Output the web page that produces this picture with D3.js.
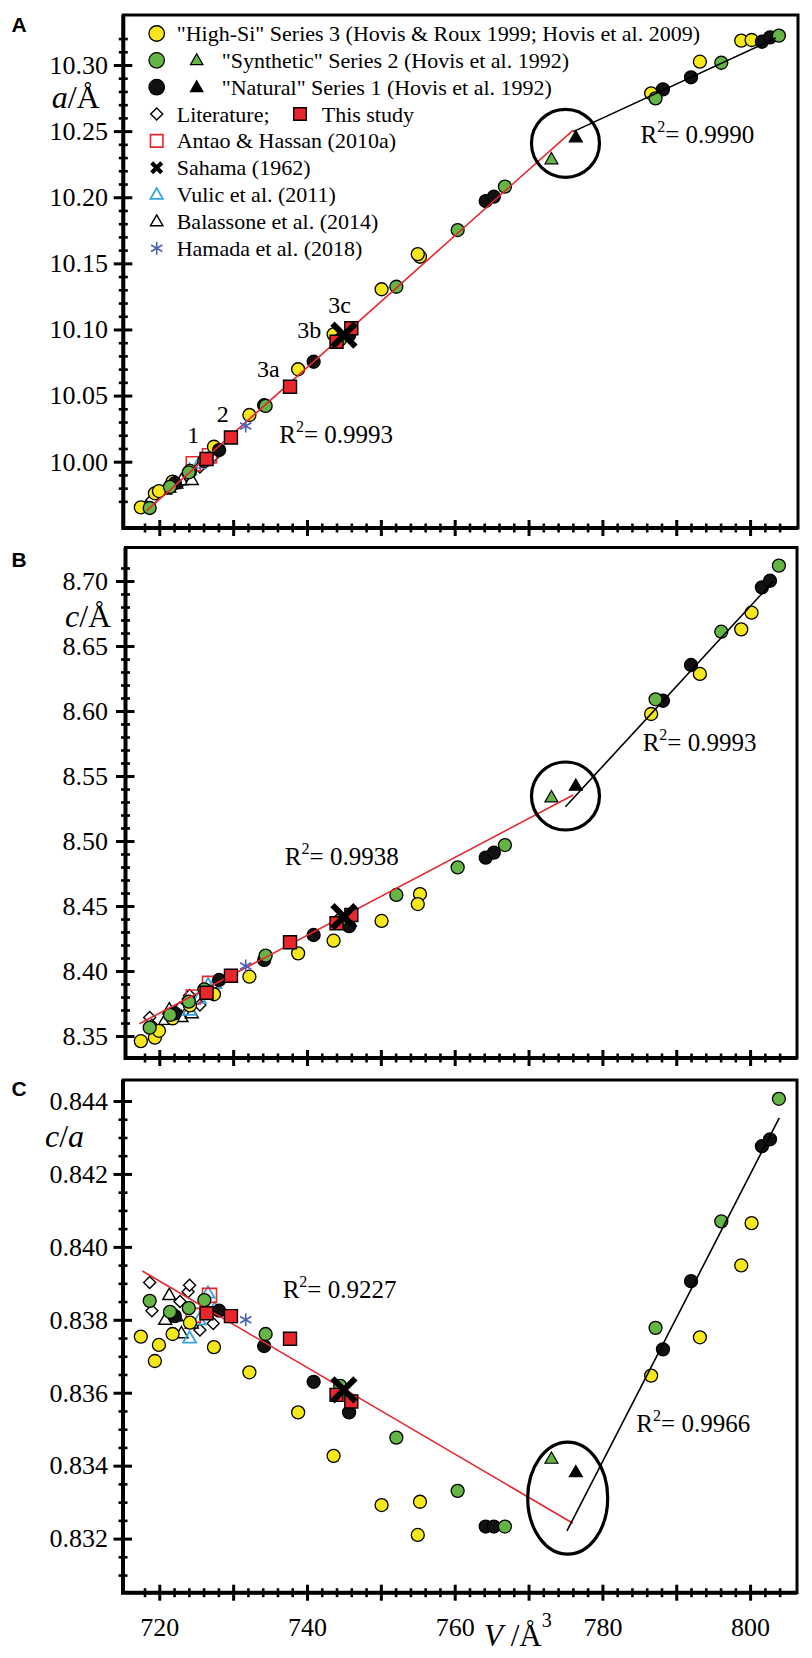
<!DOCTYPE html>
<html>
<head>
<meta charset="utf-8">
<script src="https://cdnjs.cloudflare.com/ajax/libs/d3/7.8.5/d3.min.js"></script>
<style>
  body { margin: 0; background: #fff; }
</style>
</head>
<body>
<svg id="chart" width="812" height="1658"></svg>
<script>
// one row per sample: [V (Å^3), a (Å), c (Å), c/a]
const highSi = [
  [717.5, 9.9655, 8.3460, 0.83754],
  [719.4, 9.9761, 8.3487, 0.83687],
  [719.95, 9.9778, 8.3540, 0.83731],
  [721.8, 9.9850, 8.3636, 0.83761],
  [724.15, 9.9930, 8.3735, 0.83792],
  [727.4, 10.0113, 8.3821, 0.83725],
  [732.2, 10.0353, 8.3956, 0.83656],
  [738.8, 10.0699, 8.4136, 0.83546],
  [743.6, 10.0963, 8.4233, 0.83427],
  [750.1, 10.1304, 8.4385, 0.83292],
  [755.3, 10.1550, 8.4592, 0.83301],
  [755.0, 10.1570, 8.4515, 0.83210],
  [786.6, 10.2786, 8.5977, 0.83647],
  [793.2, 10.3025, 8.6285, 0.83752],
  [798.8, 10.3184, 8.6628, 0.83949],
  [800.2, 10.3189, 8.6756, 0.84065]
];
const synthetic = [
  [718.7, 9.9650, 8.3564, 0.83852],
  [721.45, 9.9810, 8.3662, 0.83822],
  [724.0, 9.9920, 8.3764, 0.83832],
  [726.1, 10.0006, 8.3859, 0.83854],
  [734.4, 10.0422, 8.4118, 0.83761],
  [744.5, 10.0924, 8.4392, 0.83619],
  [752.1, 10.1323, 8.4585, 0.83477],
  [760.4, 10.1752, 8.4797, 0.83331],
  [766.8, 10.2080, 8.4969, 0.83233],
  [787.2, 10.2748, 8.6090, 0.83778],
  [796.1, 10.3017, 8.6610, 0.84070],
  [803.9, 10.3222, 8.7118, 0.84406]
];
const natural = [
  [722.1, 9.9837, 8.3674, 0.83810],
  [728.1, 10.0088, 8.3931, 0.83825],
  [734.2, 10.0427, 8.4085, 0.83728],
  [740.9, 10.0756, 8.4277, 0.83630],
  [745.7, 10.0957, 8.4345, 0.83546],
  [764.2, 10.1971, 8.4872, 0.83233],
  [765.3, 10.2004, 8.4910, 0.83233],
  [788.2, 10.2816, 8.6079, 0.83719],
  [792.0, 10.2907, 8.6354, 0.83906],
  [801.6, 10.3176, 8.6951, 0.84276],
  [802.7, 10.3209, 8.7002, 0.84295]
];
const synthTri = [[773.1, 10.2287, 8.5336, 0.83419]];
const naturalTri = [[776.4, 10.2453, 8.5425, 0.83382]];
const literature = [
  [718.7, 9.9690, 8.3642, 0.83902],
  [719.0, 9.9710, 8.3582, 0.83825],
  [722.8, 9.9840, 8.3716, 0.83850],
  [723.9, 9.9890, 8.3785, 0.83877],
  [724.1, 9.9900, 8.3811, 0.83895],
  [725.5, 9.9960, 8.3738, 0.83772],
  [727.3, 10.0040, 8.3824, 0.83790]
];
const thisStudy = [
  [726.4, 10.0020, 8.3833, 0.83818],
  [729.7, 10.0183, 8.3964, 0.83810],
  [737.7, 10.0567, 8.4221, 0.83748],
  [744.0, 10.0907, 8.4367, 0.83594],
  [746.0, 10.1009, 8.4431, 0.83576]
];
const antao = [
  [724.6, 9.9985, 8.3800, 0.83812],
  [726.8, 10.0045, 8.3905, 0.83867]
];
const sahama = [[745.0, 10.0958, 8.4418, 0.83608]];
const vulic = [
  [724.1, 9.9937, 8.3697, 0.83750],
  [725.4, 9.9988, 8.3790, 0.83800],
  [726.6, 10.0025, 8.3894, 0.83873],
  [727.5, 10.0088, 8.3904, 0.83830]
];
const balassone = [
  [720.8, 9.9790, 8.3624, 0.83800],
  [721.35, 9.9805, 8.3705, 0.83868],
  [722.3, 9.9835, 8.3672, 0.83810],
  [723.0, 9.9860, 8.3646, 0.83763],
  [724.4, 9.9862, 8.3675, 0.83790]
];
const hamada = [[731.7, 10.0270, 8.4038, 0.83800]];

// fitted segments [V, value]
const fitLowA = [[718.3, 9.963], [776.05, 10.2508]];
const fitHighA = [[776.05, 10.2496], [803.5, 10.3204]];
const fitLowC = [[717.3, 8.3594], [776.05, 8.5354]];
const fitHighC = [[775.0, 8.5264], [803.1, 8.6995]];
const fitLowCA = [[717.7, 0.83934], [776.0, 0.83242]];
const fitHighCA = [[775.2, 0.83221], [803.95, 0.84354]];

// R^2 labels [text, V, value]
const r2A = [['0.9993', 736.25, 10.0139], ['0.9990', 785.17, 10.2412]];
const r2C = [['0.9938', 737.0, 8.4815], ['0.9993', 785.45, 8.5692]];
const r2CA = [['0.9227', 736.7, 0.83859], ['0.9966', 784.6, 0.83492]];
const sampleLabels = [['1', 724.6, 10.0139], ['2', 728.6, 10.0302], ['3a', 734.75, 10.0643],
                      ['3b', 740.3, 10.0933], ['3c', 744.4, 10.1122]];
// circled region centres [V, value]
const ringA = [775.0, 10.2408], ringC = [775.0, 8.5346], ringCA = [775.3, 0.83311];

// tick labels
const vTicks = [720, 740, 760, 780, 800];
const aTicks = [10.00, 10.05, 10.10, 10.15, 10.20, 10.25, 10.30];
const cTicks = [8.35, 8.40, 8.45, 8.50, 8.55, 8.60, 8.65, 8.70];
const caTicks = [0.832, 0.834, 0.836, 0.838, 0.840, 0.842, 0.844];

const serif = '"Liberation Serif", "Times New Roman", serif';
const svg = d3.select('#chart').style('font-family', serif);
const red = '#e8262d', yellow = '#f6e71d', green = '#64b446';

const x = d3.scaleLinear().domain([720, 800]).range([159.3, 750.1]);

const panels = [
  { letter: 'A', letterY: 31.7, col: 1, top: 15, bottom: 528, left: 123.3, right: 798,
    y: d3.scaleLinear().domain([10.00, 10.30]).range([461.7, 65]),
    major: aTicks, step: 0.01, fmt: d3.format('.2f'),
    fits: [fitLowA, fitHighA], r2: r2A, ring: ringA, rx: 34, ry: 34 },
  { letter: 'B', letterY: 566.7, col: 2, top: 547.5, bottom: 1058, left: 125.5, right: 797,
    y: d3.scaleLinear().domain([8.35, 8.70]).range([1036, 581]),
    major: cTicks, step: 0.01, fmt: d3.format('.2f'),
    fits: [fitLowC, fitHighC], r2: r2C, ring: ringC, rx: 34, ry: 34 },
  { letter: 'C', letterY: 1096, col: 3, top: 1080, bottom: 1592.7, left: 123, right: 797,
    y: d3.scaleLinear().domain([0.832, 0.844]).range([1538.6, 1101]),
    major: caTicks, step: 0.0005, fmt: d3.format('.3f'),
    fits: [fitLowCA, fitHighCA], r2: r2CA, ring: ringCA, rx: 40, ry: 56, xLabels: true }
];

function stepTicks(lo, hi, step) {
  const n0 = Math.ceil(lo / step - 1e-6), n1 = Math.floor(hi / step + 1e-6);
  return d3.range(n0, n1 + 1).map(i => +(i * step).toFixed(6));
}

function symPath(type, s) {
  const h = s / 2;
  if (type === 'circle') return d3.symbol(d3.symbolCircle, Math.PI * h * h)();
  if (type === 'square') return `M${-h},${-h}H${h}V${h}H${-h}Z`;
  if (type === 'diamond') return `M0,${-h}L${h},0L0,${h}L${-h},0Z`;
  if (type === 'triangle') { const t = s * 0.87; return `M0,${-t * 0.6}L${h},${t * 0.4}L${-h},${t * 0.4}Z`; }
  if (type === 'x') return `M${-h},${-h}L${h},${h}M${h},${-h}L${-h},${h}`;
  if (type === 'asterisk') {
    const c = h * Math.cos(Math.PI / 6), s2 = h * Math.sin(Math.PI / 6);
    return `M0,${-h}V${h}M${-c},${-s2}L${c},${s2}M${-c},${s2}L${c},${-s2}`;
  }
}

const styles = {
  literature: { sym: 'diamond', size: 12, fill: '#fff', stroke: '#000', sw: 1.4 },
  balassone: { sym: 'triangle', size: 13, fill: '#fff', stroke: '#000', sw: 1.4 },
  vulic: { sym: 'triangle', size: 13, fill: 'none', stroke: '#36a4e0', sw: 1.8 },
  antao: { sym: 'square', size: 14, fill: 'none', stroke: red, sw: 1.6 },
  highSi: { sym: 'circle', size: 13, fill: yellow, stroke: '#000', sw: 1.3 },
  natural: { sym: 'circle', size: 13, fill: '#111', stroke: '#000', sw: 1.3 },
  synthetic: { sym: 'circle', size: 13, fill: green, stroke: '#000', sw: 1.3 },
  synthTri: { sym: 'triangle', size: 13, fill: green, stroke: '#000', sw: 1.2 },
  naturalTri: { sym: 'triangle', size: 13, fill: '#000', stroke: '#000', sw: 1.2 },
  thisStudy: { sym: 'square', size: 13, fill: red, stroke: '#000', sw: 1.4 },
  hamada: { sym: 'asterisk', size: 13, fill: 'none', stroke: '#4a60b8', sw: 1.6 },
  sahama: { sym: 'x', size: 23, fill: 'none', stroke: '#000', sw: 6 }
};

const under = [['literature', literature], ['balassone', balassone], ['vulic', vulic], ['antao', antao],
               ['highSi', highSi], ['natural', natural], ['synthetic', synthetic],
               ['synthTri', synthTri], ['naturalTri', naturalTri]];
const over = [['thisStudy', thisStudy], ['hamada', hamada], ['sahama', sahama]];

function drawSeries(g, p, list) {
  list.forEach(([key, rows]) => {
    const st = styles[key];
    g.append('g').selectAll('path').data(rows).join('path')
      .attr('transform', d => `translate(${x(d[0])},${p.y(d[p.col])})`)
      .attr('d', symPath(st.sym, st.size))
      .attr('fill', st.fill).attr('stroke', st.stroke).attr('stroke-width', st.sw);
  });
}

function r2Text(g, px, py) {
  return function (label) {
    const t = g.append('text').attr('x', px).attr('y', py).attr('font-size', 25).attr('fill', '#000');
    t.append('tspan').text('R');
    t.append('tspan').attr('font-size', 16).attr('dy', -11).text('2');
    t.append('tspan').attr('dy', 11).text('= ' + label);
  };
}

panels.forEach(p => {
  const g = svg.append('g');

  // ticks
  const yLo = p.y.invert(p.bottom), yHi = p.y.invert(p.top);
  const majorSet = new Set(p.major.map(v => v.toFixed(4)));
  const minor = stepTicks(yLo, yHi, p.step)
    .filter(v => p.y(v) > p.top + 14 && p.y(v) < p.bottom - 14 && !majorSet.has(v.toFixed(4)));

  g.append('g').attr('transform', `translate(${p.left},0)`)
    .call(d3.axisLeft(p.y).tickValues(minor).tickSize(4.5).tickFormat(''))
    .call(s => s.select('.domain').remove())
    .call(s => s.selectAll('line').attr('x1', 4.5).attr('stroke', '#000').attr('stroke-width', 2.6));

  g.append('g').attr('transform', `translate(${p.left},0)`)
    .call(d3.axisLeft(p.y).tickValues(p.major).tickSize(9.5).tickPadding(p.left - 108 - 9.5).tickFormat(p.fmt))
    .call(s => s.select('.domain').remove())
    .call(s => s.selectAll('line').attr('x1', 9).attr('stroke', '#000').attr('stroke-width', 3))
    .call(s => s.selectAll('text').attr('fill', '#000')
      .style('font-family', serif).style('font-size', '26px'));

  const vLo = x.invert(p.left), vHi = x.invert(p.right);
  const vMinor = stepTicks(vLo, vHi, 2)
    .filter(v => v % 10 !== 0 && x(v) > p.left + 14 && x(v) < p.right - 14);
  const vMajor = stepTicks(vLo, vHi, 10).filter(v => x(v) > p.left + 14 && x(v) < p.right - 14);

  g.append('g').attr('transform', `translate(0,${p.bottom})`)
    .call(d3.axisBottom(x).tickValues(vMinor).tickSize(4.5).tickFormat(''))
    .call(s => s.select('.domain').remove())
    .call(s => s.selectAll('line').attr('y1', -4.5).attr('stroke', '#000').attr('stroke-width', 2.6));

  g.append('g').attr('transform', `translate(0,${p.bottom})`)
    .call(d3.axisBottom(x).tickValues(vMajor).tickSize(8).tickPadding(16.8)
      .tickFormat(v => (p.xLabels && vTicks.includes(v)) ? String(v) : ''))
    .call(s => s.select('.domain').remove())
    .call(s => s.selectAll('line').attr('y1', -8).attr('stroke', '#000').attr('stroke-width', 3))
    .call(s => s.selectAll('text').attr('fill', '#000')
      .style('font-family', serif).style('font-size', '26px'));

  // frame
  g.append('rect').attr('x', p.left).attr('y', p.top)
    .attr('width', p.right - p.left).attr('height', p.bottom - p.top)
    .attr('fill', 'none').attr('stroke', '#000').attr('stroke-width', 3);
  g.append('path')
    .attr('d', `M${p.left},${p.top}V${p.bottom}H${p.right}`)
    .attr('fill', 'none').attr('stroke', '#000').attr('stroke-width', 4);

  // panel letter
  g.append('text').attr('x', 11.5).attr('y', p.letterY)
    .style('font-family', '"Liberation Sans", Arial, sans-serif').attr('font-weight', 'bold')
    .attr('font-size', 21).text(p.letter);

  // markers below the fits
  drawSeries(g, p, under);

  // fitted lines
  const line = d3.line().x(d => x(d[0])).y(d => p.y(d[1]));
  g.append('path').attr('d', line(p.fits[0])).attr('fill', 'none').attr('stroke', red).attr('stroke-width', 1.6);
  g.append('path').attr('d', line(p.fits[1])).attr('fill', 'none').attr('stroke', '#000').attr('stroke-width', 1.6);

  drawSeries(g, p, over);

  // ring around the two triangles
  g.append('ellipse').attr('cx', x(p.ring[0])).attr('cy', p.y(p.ring[1]))
    .attr('rx', p.rx).attr('ry', p.ry)
    .attr('fill', 'none').attr('stroke', '#000').attr('stroke-width', 3.2);

  p.r2.forEach(([label, v, val]) => r2Text(g, x(v), p.y(val))(label));
});

// panel A extras
const pA = panels[0];
svg.append('g').selectAll('text').data(sampleLabels).join('text')
  .attr('x', d => x(d[1])).attr('y', d => pA.y(d[2]))
  .attr('text-anchor', 'middle').attr('font-size', 24).text(d => d[0]);

// axis titles
const aT = svg.append('text').attr('x', 51.7).attr('y', 108).attr('font-size', 32);
aT.append('tspan').attr('font-style', 'italic').text('a');
aT.append('tspan').text('/Å');
const cT = svg.append('text').attr('x', 65).attr('y', 626.7).attr('font-size', 32);
cT.append('tspan').attr('font-style', 'italic').text('c');
cT.append('tspan').text('/Å');
const caT = svg.append('text').attr('x', 45).attr('y', 1147).attr('font-size', 32).attr('font-style', 'italic');
caT.append('tspan').text('c');
caT.append('tspan').attr('font-style', 'normal').text('/');
caT.append('tspan').text('a');
const vT = svg.append('text').attr('x', 484).attr('y', 1645.7).attr('font-size', 31);
vT.append('tspan').attr('font-style', 'italic').text('V');
vT.append('tspan').text(' /Å');
vT.append('tspan').attr('font-size', 20).attr('dy', -19).text('3');

// legend
const legendRows = [
  [['highSi', 156.7, '"High-Si" Series 3 (Hovis & Roux 1999; Hovis et al. 2009)', 176.7]],
  [['synthetic', 156.7, null], ['synthTri', 196.7, '"Synthetic" Series 2 (Hovis et al. 1992)', 221.7]],
  [['natural', 156.7, null], ['naturalTri', 196.7, '"Natural" Series 1 (Hovis et al. 1992)', 221.7]],
  [['literature', 156.7, 'Literature;', 176.7], ['thisStudy', 300, 'This study', 321.7]],
  [['antao', 156.7, 'Antao & Hassan (2010a)', 176.7]],
  [['sahama', 156.7, 'Sahama (1962)', 176.7]],
  [['vulic', 156.7, 'Vulic et al. (2011)', 176.7]],
  [['balassone', 156.7, 'Balassone et al. (2014)', 176.7]],
  [['hamada', 156.7, 'Hamada et al. (2018)', 176.7]]
];
const legend = svg.append('g');
legendRows.forEach((row, i) => {
  const cy = 33.5 + 26.85 * i;
  row.forEach(([key, sx, label, tx]) => {
    const st = styles[key];
    let size = st.size, sw = st.sw;
    if (st.sym === 'circle') size = 15.5;
    if (key === 'sahama') { size = 10; sw = 4.2; }
    if (st.sym === 'triangle') size = 12.5;
    if (st.sym === 'square') size = 12.5;
    legend.append('path').attr('transform', `translate(${sx},${cy})`)
      .attr('d', symPath(st.sym, size))
      .attr('fill', st.fill).attr('stroke', st.stroke).attr('stroke-width', sw);
    if (label) {
      legend.append('text').attr('x', tx).attr('y', cy + 7.5).attr('font-size', 22).text(label);
    }
  });
});
</script>
</body>
</html>
